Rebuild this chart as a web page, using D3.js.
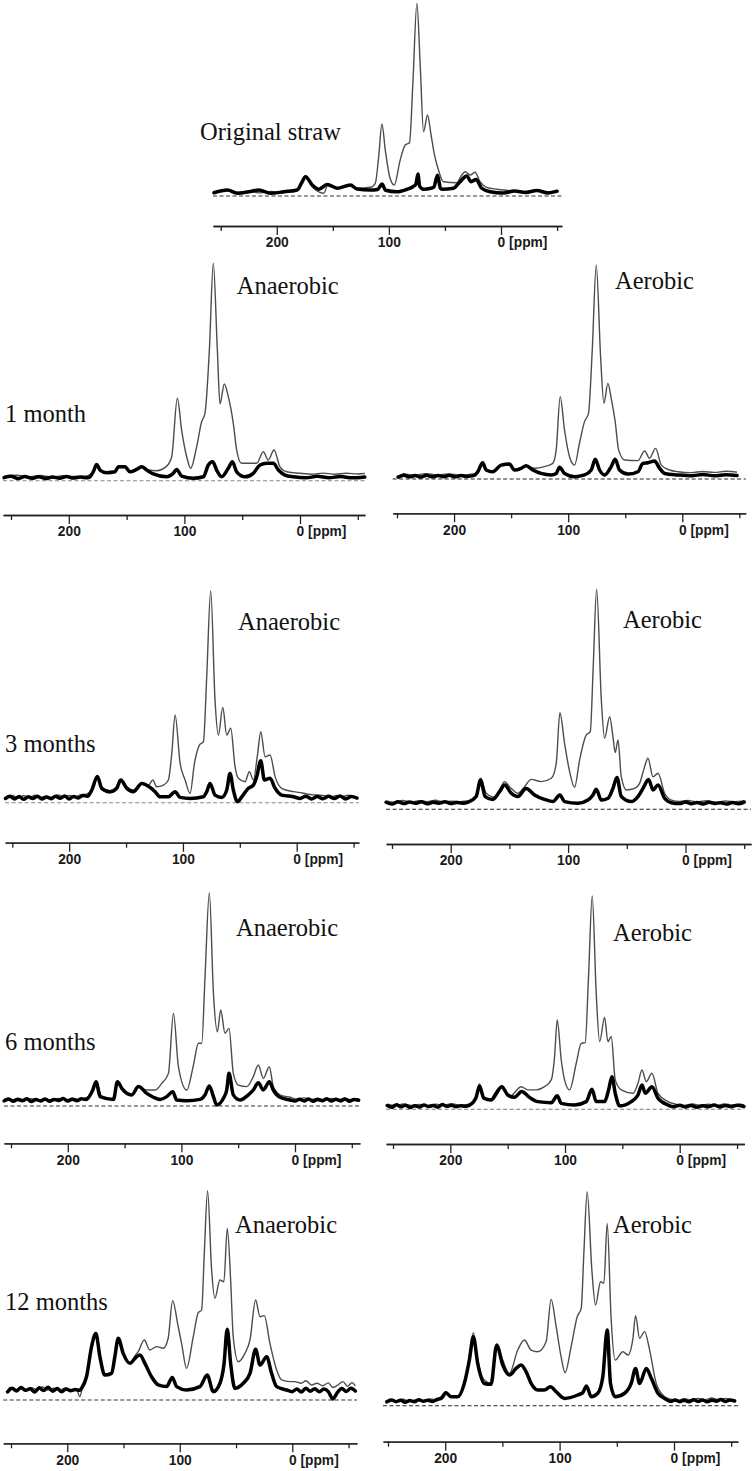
<!DOCTYPE html>
<html><head><meta charset="utf-8">
<script src="https://cdn.jsdelivr.net/npm/d3@7"></script>
<style>body{margin:0;background:#fff} svg{display:block}</style>
</head><body>
<svg id="c" width="756" height="1471"></svg>
<script>
// ---------- tick data ----------
const majorTicks = [200, 100, 0];
const minorTicks = [250, 150, 50, -50];
const tickLabels = {200: "200", 100: "100", 0: "0 [ppm]"};

// ---------- text ----------
const panelTitles = ["Original straw", "Anaerobic", "Aerobic", "Anaerobic", "Aerobic", "Anaerobic", "Aerobic", "Anaerobic", "Aerobic"];
const timeLabels = ["1 month", "3 months", "6 months", "12 months"];

// ---------- spectra: [ppm, relative intensity] ----------
const thinOrig = [[256,2.0],[245,2.8],[235,1.8],[225,2.5],[215,1.6],[205,2.4],[195,1.8],[185,2.2],[181.8,3.1],[174.4,10.4],[168.4,4.8],[162.5,2.2],[158,1.4],[154.2,6.2],[146.2,4.0],[134.3,5.7],[128.4,4.0],[116.5,4.5],[112.1,6.6],[109.1,20.4],[106.2,37.3],[103.2,23.8],[99.3,10],[95.2,5.7],[89.9,18.7],[85.4,26.4],[81.6,27.6],[78.6,58.4],[75,99.8],[72,67],[69.1,33.3],[65.5,42],[62.6,32.5],[59.6,22.1],[55.8,13.5],[51.3,7.4],[39.4,6.9],[35.9,10],[32,12.6],[27.6,10.9],[23.1,12.3],[18.7,7.4],[12.8,4.5],[3.9,3.5],[-8,2.8],[-20,2.2],[-30,3.0],[-40,2.0],[-50,2.6],[-55,2.2]];
const thickOrig = [[256,1.7],[244,3.1],[235.2,1.4],[224.8,2.2],[215.9,3.1],[205.5,1.4],[193.7,2.2],[181.8,3.1],[177.3,7.4],[174.4,10],[168.4,5.7],[162.5,3.5],[155.1,6],[146.2,4],[134.3,5.7],[128.4,3.6],[116.5,3.1],[110,3.4],[106.2,6.2],[103,3.0],[92.8,2.2],[83.9,3.5],[78.6,4.8],[76,6],[74.1,11.4],[72.5,5],[69.1,3.5],[62.6,4],[60,4.5],[56.6,10.7],[54,4],[52.8,3.5],[42.4,4],[36.5,7.4],[30.5,10.4],[26.7,7.4],[22.2,8.6],[17.2,4],[9.8,2.2],[-2,1.5],[-12,2.6],[-22,1.8],[-32,2.8],[-42,1.6],[-50,2.5],[-55,2.0]];

const thinAna1 = [[256,2.1],[245,2.5],[235,1.8],[225,2.4],[215,1.7],[205,2.3],[195,1.9],[185,2.1],[178.8,4.1],[175.9,6.7],[173,4.9],[167.2,3.7],[160,4.1],[157.2,6.1],[151.4,6.1],[147.1,4.1],[141.3,5.2],[137,6.1],[131.2,4.9],[124,4.6],[115.3,6.7],[111,11],[106.1,37.9],[102.4,23.3],[98,11],[94.6,5.7],[89.4,15.6],[85.1,27.1],[82.2,31],[78.4,60.1],[75,100],[71.5,60.1],[69.2,35.3],[65.5,44.5],[62,38.7],[57.7,26.4],[54.8,14.1],[50.5,8],[37.5,8],[31.7,13.3],[27.4,9.5],[22.5,14.1],[17.3,6.4],[11.5,4.1],[0,3.4],[-10,3.0],[-20,3.5],[-30,3.0],[-40,3.4],[-50,3.1],[-56,3.3]];
const thickAna1 = [[256,1.4],[250,2.0],[244,1.0],[238,1.9],[232,1.1],[226,1.8],[220,1.0],[214,1.7],[208,1.1],[202,1.9],[196,1.2],[190,1.7],[184,1.3],[181.7,1.8],[178.8,4.1],[175.9,7.5],[173,4.9],[167.2,3.7],[160,4.1],[157.2,6.4],[151.4,6.4],[147.1,4.1],[141.3,5.2],[137,6.4],[132.6,4.9],[126.9,3.1],[115.3,1.8],[109.6,3.4],[106.7,5.2],[102.4,2.1],[92.3,1.1],[83.6,1.8],[79.3,7.2],[75.5,8.7],[72.1,4.9],[67.8,1.8],[62,5.7],[58.5,8.7],[54.8,4.1],[47.6,1.8],[40.4,3.4],[34.6,7.2],[28.8,8],[23.1,8],[18.7,4.9],[13,2.6],[5.8,1.8],[-5,1.3],[-15,2.0],[-25,1.4],[-35,1.9],[-45,1.3],[-56,1.7]];

const thinAer1 = [[254,2.0],[245,2.6],[235,1.8],[225,2.5],[215,1.9],[205,2.4],[195,1.8],[185,2.2],[179.2,3],[174.9,7.3],[171.9,4.2],[166.1,3.4],[158.8,6.2],[151.5,6.5],[147.1,4.2],[141.2,5],[136.8,6.1],[129.5,5],[120.8,5.8],[113.5,7.3],[110.5,13.6],[107,38.5],[103.2,22.9],[98.8,10.4],[94.4,6.5],[90.1,16.7],[85.7,26.8],[82.2,30.7],[78.9,60.3],[75.4,100],[71.6,57.2],[68.7,35.4],[65.2,44.7],[62.3,37.7],[58.8,26.8],[55.8,13.6],[50.6,8.9],[38.9,8.6],[33,13.1],[28.7,9.7],[23.4,14.3],[18.4,6.5],[11.1,4.2],[3.8,3.4],[-8,3.0],[-18,3.5],[-28,3.1],[-38,3.6],[-48,3.2],[-56,3.5]];
const thickAer1 = [[254,1.6],[249,0.9],[244,1.7],[239,1.0],[234,1.6],[229,0.9],[224,1.7],[219,1.0],[214,1.6],[209,1.1],[204,1.7],[199,1.0],[194,1.6],[189,1.2],[182.2,1.7],[179.2,3.4],[174.9,7.6],[171.9,4.2],[166.1,3.4],[158.8,6.5],[151.5,7],[147.1,4.2],[141.2,5],[136.8,6.2],[131,4.2],[123.7,2.6],[114.9,1.9],[110.5,2.6],[107.6,5.5],[103.2,2.6],[94.4,1.1],[85.7,1.9],[79.8,4.2],[76.3,9.2],[72.5,4.2],[68.1,1.9],[62.3,5.8],[58.8,9.2],[55,4.2],[47.7,2.3],[38.9,3.4],[34.5,7.3],[30.1,7.6],[24.3,8.4],[19.9,5],[15.5,2.6],[3.8,1.9],[-8,1.5],[-18,2.1],[-28,1.5],[-38,2.0],[-48,1.6],[-56,1.9]];

const thinAna3 = [[256,2.5],[250,3.4],[245,2.2],[240,3.3],[235,2.4],[230,3.5],[225,2.6],[220,3.1],[215,2.3],[210,3.6],[205,2.8],[200,3.4],[195,2.7],[190,3.8],[185,4.0],[180.1,6],[175.2,12.3],[171.4,7.5],[165.5,4.7],[161.1,5.2],[154.7,10.7],[149.4,7.5],[143.5,6],[136.2,9.1],[130.3,8.3],[126.5,10.7],[123,7.5],[117.2,8.3],[112.8,10.7],[109.8,23.3],[106.9,41.4],[102.5,18.6],[98.1,10.7],[93.7,4.4],[89.9,18.6],[85.5,27.2],[82,28.8],[79.1,59.4],[75.6,100],[71.8,48.4],[68.8,31.9],[65,45],[61.5,31.9],[58,35.1],[54.2,17],[51.3,11.5],[45.4,9.9],[41.6,14.6],[38.1,10.7],[34.3,23.3],[31.6,33.5],[27.8,21.7],[23.4,22.5],[19,12.3],[13.2,6.8],[2.9,5.2],[-5,4.6],[-10,4.0],[-17.6,3.6],[-25,3.2],[-30,2.6],[-35,3.4],[-40,2.8],[-45,3.5],[-50,2.7],[-55,3.3]];
const thickAna3 = [[256,2.0],[252,3.0],[248,1.8],[244,2.9],[240,1.6],[236,2.8],[232,2.0],[228,3.1],[224,1.7],[220,2.7],[216,1.9],[212,3.0],[208,2.1],[204,3.2],[200,1.8],[196,2.9],[192,2.2],[188,3.4],[184,3.0],[180.1,6],[175.2,12.3],[171.4,6.8],[164,5.2],[158.2,6.8],[154.7,10.7],[149.4,6.8],[143.5,5.2],[136.2,9.1],[128.9,7.2],[124.5,5.2],[120.1,2.8],[112.8,2.8],[106.9,5.2],[102.5,2.5],[93.7,2],[82,2.8],[79.1,5.2],[76.2,9.1],[71.8,3.6],[65.9,2.5],[61.5,6],[58.6,13.8],[55.7,6],[52.1,0.5],[48.3,2.8],[42.5,6.8],[38.1,8.3],[35.1,12.3],[31.6,19.8],[28.4,10.7],[23.4,11.5],[19,6.8],[13.2,3.6],[2.9,2.8],[-3,2.0],[-8,3.1],[-13,1.8],[-18,2.9],[-23,1.9],[-28,3.0],[-33,2.0],[-38,3.2],[-43,1.8],[-48,2.9],[-53,2.2],[-55,3.2]];

const thinAer3 = [[255,3.8],[248,3.2],[241,4.0],[234,3.3],[227,3.9],[220,3.5],[213,4.1],[206,3.4],[199,3.7],[192,3.5],[186,3.8],[182.5,3.9],[178.3,5.8],[174.6,14.1],[169.7,7.3],[162.6,5.5],[158.4,8.8],[154.1,12.6],[149.9,10.3],[142.8,7.3],[137.1,10.3],[131.4,13.6],[122.9,12.6],[114.3,14.1],[110.1,20.9],[107,43.9],[103,30],[98.7,17.1],[94.5,10],[90.2,22.4],[84.5,33.8],[81.1,35.3],[78.6,64.8],[75.7,100],[71.7,49.7],[68.9,32.3],[64.6,42.1],[61.8,33],[59.8,25.8],[57.5,31.5],[54.7,14.8],[50.4,8.8],[43.3,9.5],[39.1,11.8],[34.8,19.4],[32,23.2],[27.7,14.8],[23.4,16.4],[17.8,7.3],[12.1,4.2],[5,3.6],[-2,4.0],[-10,3.4],[-18,3.9],[-26,3.2],[-34,3.8],[-42,3.4],[-50,3.9],[-56,2.9]];
const thickAer3 = [[255,3.2],[250,2.4],[245,3.4],[240,2.6],[235,3.3],[230,2.7],[225,3.4],[220,2.5],[215,3.2],[210,2.8],[205,3.4],[200,2.6],[195,3.1],[190,2.8],[185,3.3],[178.3,5.8],[174.6,13.3],[170.6,5.8],[164.1,4.5],[158.4,8],[154.1,11.1],[148.4,7.3],[142.8,5.8],[135.7,9.5],[128.6,6.5],[120,4.5],[112.9,3.5],[107,6.5],[103,3.5],[91.6,2.7],[83.1,4.2],[78.8,6.5],[76,9.1],[71.7,4.2],[66,5],[61.8,9.5],[58.4,14.5],[54.7,5.8],[46.2,3.5],[40.5,5.8],[36.2,9.5],[31.4,13.6],[27.7,8.8],[23.4,11.1],[17.8,5],[12.1,3],[5,2.6],[0,3.3],[-5,2.5],[-10,3.1],[-15,2.4],[-20,3.2],[-25,2.6],[-30,3.0],[-35,2.4],[-40,3.1],[-45,2.5],[-50,3.3],[-56,2.2]];

const thinAna6 = [[256,3.5],[250,2.6],[244,3.6],[238,2.8],[232,3.4],[226,2.5],[220,3.3],[214,2.7],[208,3.5],[202,2.9],[196,3.6],[190,3.0],[184,3.8],[178,7.5],[175.1,11.4],[170.1,4.4],[159.8,3.1],[158.1,7.5],[156.3,11.4],[152.5,8.3],[143.7,5.2],[137.8,9.1],[130.5,7.5],[123.2,7.5],[117.3,10.6],[111.4,15.3],[107,43.4],[102.6,18.4],[95.3,7.5],[89.4,19.2],[85,29.4],[82.1,29.4],[79.2,60.6],[75.4,100],[71.8,52.8],[68.3,34.8],[65.4,45],[61.6,34.1],[58.1,36.4],[54.3,15.3],[49.9,9.8],[42.5,9.1],[36.7,13.8],[32.3,19.2],[27.9,13],[22.6,18.4],[19.1,9.1],[13.2,5.2],[4.4,4.1],[-2,3.2],[-8,3.8],[-14,3.0],[-20,3.6],[-26,2.9],[-32,3.5],[-38,3.0],[-44,3.6],[-50,2.9],[-56,3.4]];
const thickAna6 = [[256,2.4],[252,3.3],[248,2.2],[244,3.1],[240,2.5],[236,3.4],[232,2.1],[228,3.0],[224,2.4],[220,3.3],[216,2.2],[212,3.1],[208,2.6],[204,3.5],[200,2.3],[196,3.2],[192,2.5],[188,3.4],[184,3.0],[178,7.5],[175.1,11.4],[171.6,4.4],[159.8,3.1],[156.3,11.4],[152.5,8.3],[143.7,5.2],[137.8,9.1],[130.5,5.9],[124.6,4.1],[118.8,3.1],[112.9,4.4],[107.6,6.7],[104.1,2.8],[95.3,2.5],[83.6,3.1],[79.2,5.2],[75.4,9.4],[71.8,4.4],[68.9,0.5],[63,3.6],[60.1,7.5],[58.1,15.3],[54.3,5.2],[48.4,2.8],[41.1,5.2],[36.7,7.5],[32.3,10.9],[27.9,7.5],[22.6,11.4],[19.1,7.5],[13.2,4.1],[4.4,2.8],[0,2.3],[-4,3.2],[-8,2.4],[-12,3.3],[-16,2.2],[-20,3.1],[-24,2.5],[-28,3.4],[-32,2.3],[-36,3.2],[-40,2.4],[-44,3.3],[-48,2.2],[-52,3.1],[-56,2.7]];

const thinAer6 = [[255,2.4],[248,1.7],[241,2.5],[234,1.8],[227,2.3],[220,1.6],[213,2.4],[206,2.0],[199,2.6],[192,1.9],[185,2.3],[180.4,2.8],[177.5,5.6],[174.6,11.9],[170.3,5.2],[163,4.4],[158.6,7.5],[155.1,10.6],[148.4,5.9],[138.2,10.6],[132.4,9.1],[125.1,9.1],[117.9,10.6],[112,13.8],[109.1,24.7],[106.8,41.9],[103.3,23.1],[100.4,13.8],[96,9.1],[90.2,21.6],[85.9,30.9],[82.4,31.3],[79.5,62.2],[76.3,100],[72.8,54.4],[69.8,31.7],[65.5,43.1],[62.6,31.7],[59.7,34.1],[56.2,13.8],[50.9,9.1],[40.7,7.5],[36.4,12.2],[32.9,18.4],[29.1,13],[24.2,16.9],[18.9,7.5],[10.2,3.6],[3,2.3],[-4,1.8],[-11,2.5],[-18,1.9],[-25,2.4],[-32,1.8],[-39,2.5],[-46,2.0],[-53,2.4],[-56,2.1]];
const thickAer6 = [[255,1.8],[251,1.0],[247,2.1],[243,1.2],[239,1.9],[235,0.8],[231,1.7],[227,1.1],[223,2.0],[219,1.3],[215,1.8],[211,1.0],[207,2.2],[203,1.4],[199,1.9],[195,1.2],[191,1.7],[187,1.4],[183,2.0],[177.5,5.6],[174.6,10.9],[170.8,5.2],[164.4,4.4],[160.1,7.5],[155.1,10.6],[149.9,6.7],[144.1,5.6],[137.7,8.3],[131,5.6],[123.7,3.6],[112,3.1],[106.8,6.3],[103.3,2.8],[91.7,2],[81.5,3.6],[76.5,9.4],[72.8,3.6],[65.5,3.6],[62,9.1],[59.1,15.3],[56.2,7.5],[52.4,1.6],[42.2,3.6],[36.4,6.7],[32.9,11.4],[30,7.5],[24.2,10.6],[18.9,5.2],[10.2,2],[5,1.2],[0,1.9],[-5,1.1],[-10,1.8],[-15,1.0],[-20,1.7],[-25,1.2],[-30,2.0],[-35,1.1],[-40,1.8],[-45,1.2],[-50,1.9],[-56,1.3]];

const thinAna12 = [[257,4.6],[252,6.0],[247,4.8],[242,5.7],[237,4.5],[232,5.9],[227,5.0],[222,6.2],[217,4.7],[212,5.6],[207,4.4],[202,5.8],[197,4.6],[192,5.2],[188.8,1.6],[185.8,8],[182.9,11.1],[178.4,25.5],[174.6,31.5],[171,20.7],[166.6,11.9],[160.6,12.7],[157.7,20.7],[154.7,29.5],[150.3,22.3],[144.3,17.5],[140,21],[136.9,23.1],[131.6,28.7],[126.6,23.9],[120.6,25.5],[114.7,24.7],[110.3,29.5],[106.4,47.5],[101.4,35],[98.4,27.1],[94,15.1],[88,30.3],[83.6,41.7],[80.6,43],[78.2,70.1],[75.3,100],[71.7,62.1],[68.8,48.6],[64.3,57.3],[60.8,56.5],[57.8,82],[54.8,57.3],[52.5,30.3],[48,18.3],[42.1,22.3],[37.6,28.7],[32.6,47.8],[28.7,39.8],[24.9,40.3],[19.9,27.1],[13.9,14.3],[9.5,9.6],[2.1,8.8],[-2,8.8],[-8,8.0],[-12,9.2],[-17,7.2],[-22,8.0],[-27,6.8],[-32,8.2],[-36,6.0],[-40,7.0],[-45,8.8],[-49,6.5],[-53,8.3],[-56,6.8]];
const thickAna12 = [[257,5.0],[253,3.9],[249,5.6],[245,4.3],[241,6.0],[237,4.6],[233,5.4],[229,3.8],[225,5.8],[221,4.5],[217,6.1],[213,4.2],[209,5.5],[205,3.9],[201,5.3],[197,4.4],[193,5.0],[189,4.6],[187.3,5.6],[182.9,11.1],[178.4,25.5],[174.6,31.8],[171,20.7],[166.6,11.9],[160.6,12.7],[157.7,20.7],[154.7,29.5],[150.3,22.3],[144.3,17.5],[138.4,20.7],[135.4,21.5],[131,17.5],[125.1,11.1],[119.1,7.2],[111.7,6.4],[106.7,10.8],[102.8,6.4],[94,4.8],[82.1,6.4],[75.6,11.9],[70.2,4],[64.3,8],[60.8,16.7],[57.8,33.8],[54.8,17.5],[51,5.6],[43.6,8],[37.6,12.7],[32.6,24.2],[28.7,16.7],[22.8,20.7],[18.4,12.7],[13.9,6.4],[5,4.8],[0,4.0],[-4,5.3],[-8,3.8],[-12,5.6],[-16,4.2],[-20,5.4],[-24,3.9],[-28,5.2],[-32,4.0],[-36,0.5],[-40,3.5],[-44,5.5],[-48,4.1],[-52,5.6],[-56,4.3]];

const thinAer12 = [[255,2.2],[249,3.1],[243,2.3],[237,3.0],[231,2.0],[225,2.8],[219,2.2],[213,3.2],[207,2.6],[203.7,4.2],[199.4,6.5],[195,4.2],[189.1,4.2],[183.3,10.4],[178.9,22.9],[175.4,34.1],[171.6,21.3],[165.8,12],[160,10.4],[155,28.8],[149.7,21.3],[143.9,15.1],[136.6,26],[130.8,30.7],[124.9,26],[119.1,25.2],[111.8,29.9],[107.4,49.7],[103,36.9],[98.7,22.9],[95.2,15.4],[89.9,27.6],[84.6,41.6],[81.1,45.5],[78.8,71.2],[75.9,100],[71.8,63.4],[68.6,47],[64.2,57.9],[61.3,57.2],[58.4,85.2],[54.9,40],[51.4,21.3],[44.7,25.2],[40.3,23.7],[35.9,31.5],[33.6,42.1],[30.1,31.5],[25.7,34.6],[21.3,26],[15.5,10.4],[8.2,4.2],[3,3.0],[-3,2.3],[-9,3.3],[-15,2.5],[-21,3.4],[-27,2.7],[-33,3.6],[-39,2.8],[-45,3.4],[-51,2.6],[-56,3.9]];
const thickAer12 = [[255,2.6],[251,1.8],[247,2.7],[243,1.9],[239,2.5],[235,1.6],[231,2.4],[227,1.9],[223,2.8],[219,2.1],[215,2.6],[211,2.0],[207,2.9],[203,3.6],[199.4,6.1],[195,4.2],[189.1,4.2],[183.3,10.4],[178.9,21.3],[175.4,32.2],[171.6,19.8],[165.8,10.4],[160,10],[155,28.3],[149.7,19],[143.9,14.3],[138.1,17.4],[133.7,19],[129.3,15.9],[124.9,10.4],[119.1,7.3],[113.3,7.3],[108,8.9],[103,6.5],[95.7,3.4],[84.1,5],[79.7,6.1],[76.5,9.2],[72.4,4.2],[66.6,5.8],[62.2,13.6],[58.4,35.4],[55.5,10.4],[51.4,4.2],[43.2,5.8],[37.4,10.4],[33.6,17.4],[30.1,10.4],[24.2,17.4],[19.8,12.8],[14,5.8],[8.2,3.4],[3,2.0],[-1,2.7],[-5,1.9],[-9,2.6],[-13,1.8],[-17,2.8],[-21,2.0],[-25,2.7],[-29,1.8],[-33,2.6],[-37,2.1],[-41,2.9],[-45,2.0],[-49,2.7],[-53,2.2],[-56,2.8]];

// ---------- layout (pixel geometry per panel) ----------
const layout = [
  {thin: thinOrig,  thick: thickOrig,  title: 0, tx: 200,   ty: 140,   time: -1, x250: 220.7, x0: 501,   pL: 256.9, pR: -54.3, yBase: 196,    yTop: 3,     yAxis: 226,    dash: "#333"},
  {thin: thinAna1,  thick: thickAna1,  title: 1, tx: 236.7, ty: 294,   time: 0, lx: 5, ly: 421.7, x250: 11,  x0: 300,   pL: 256.9, pR: -56.2, yBase: 480.7,  yTop: 263.3, yAxis: 515,    dash: "#888"},
  {thin: thinAer1,  thick: thickAer1,  title: 2, tx: 615,   ty: 289.3, time: -1, x250: 397,   x0: 682.3, pL: 253.8, pR: -55.6, yBase: 479,    yTop: 265,   yAxis: 513.3,  dash: "#222"},
  {thin: thinAna3,  thick: thickAna3,  title: 3, tx: 238,   ty: 630,   time: 1, lx: 5, ly: 752, x250: 12.3, x0: 296.7, pL: 256.3, pR: -54.7, yBase: 802.7,  yTop: 590.7, yAxis: 842.7,  dash: "#888"},
  {thin: thinAer3,  thick: thickAer3,  title: 4, tx: 623,   ty: 628.3, time: -1, x250: 392,   x0: 685.5, pL: 255,   pR: -55.8, yBase: 809.3,  yTop: 589.3, yAxis: 844,    dash: "#222"},
  {thin: thinAna6,  thick: thickAna6,  title: 5, tx: 236,   ty: 936,   time: 2, lx: 5, ly: 1050, x250: 11, x0: 295,   pL: 256.2, pR: -57.2, yBase: 1106,   yTop: 892.7, yAxis: 1143.3, dash: "#333"},
  {thin: thinAer6,  thick: thickAer6,  title: 6, tx: 613,   ty: 941,   time: -1, x250: 393,   x0: 679.7, pL: 256,   pR: -56.4, yBase: 1109.3, yTop: 896,   yAxis: 1144,   dash: "#777"},
  {thin: thinAna12, thick: thickAna12, title: 7, tx: 235,   ty: 1233.3, time: 3, lx: 5, ly: 1310, x250: 11, x0: 292.3, pL: 256.9, pR: -57.5, yBase: 1400,   yTop: 1190.7, yAxis: 1443.3, dash: "#333"},
  {thin: thinAer12, thick: thickAer12, title: 8, tx: 613,   ty: 1233.3, time: -1, x250: 388,  x0: 674,   pL: 254.4, pR: -55.9, yBase: 1405.7, yTop: 1191.7, yAxis: 1441.7, dash: "#222"}
];

const svg = d3.select("#c");

layout.forEach(p => {
  const k = (p.x0 - p.x250) / 250;
  const x = d3.scaleLinear().domain([p.pL, p.pR]).range([p.x0 - p.pL * k, p.x0 - p.pR * k]);
  const y = d3.scaleLinear().domain([0, 100]).range([p.yBase, p.yTop]);
  const g = svg.append("g");
  const inRange = d => d[0] <= p.pL + 0.01 && d[0] >= p.pR - 0.01;

  // dashed zero line
  g.append("line")
    .attr("x1", x(p.pL)).attr("x2", x(p.pR))
    .attr("y1", y(0)).attr("y2", y(0))
    .attr("stroke", p.dash).attr("stroke-width", 1.1)
    .attr("stroke-dasharray", "4,2.5");

  const line = d3.line().x(d => x(d[0])).y(d => y(d[1])).curve(d3.curveMonotoneX);

  g.append("path").datum(p.thin.filter(inRange)).attr("d", line)
    .attr("fill", "none").attr("stroke", "#4d4d4d").attr("stroke-width", 1.4)
    .attr("stroke-linejoin", "round");
  g.append("path").datum(p.thick.filter(inRange)).attr("d", line)
    .attr("fill", "none").attr("stroke", "#000").attr("stroke-width", 3.5)
    .attr("stroke-linejoin", "round").attr("stroke-linecap", "round");

  // axes
  const minorAxis = d3.axisBottom(x).tickValues(minorTicks).tickSize(5).tickSizeOuter(0).tickFormat(() => "");
  const majorAxis = d3.axisBottom(x).tickValues(majorTicks).tickSize(9).tickSizeOuter(0).tickFormat(d => tickLabels[d]);
  const ga = g.append("g").attr("transform", `translate(0,${p.yAxis})`).style("color", "#222");
  ga.append("g").call(minorAxis);
  const gm = ga.append("g").call(majorAxis);
  ga.selectAll("path.domain").attr("stroke-width", 1.3);
  ga.selectAll(".tick line").attr("stroke-width", 1.3);
  gm.selectAll(".tick text")
    .attr("font-family", "'Liberation Sans', Arial, sans-serif")
    .attr("font-weight", "bold").attr("font-size", 13.8).attr("fill", "#1a1a1a")
    .attr("y", 11.5)
    .each(function(d) {
      if (d === 0) d3.select(this).attr("text-anchor", "start").attr("x", -3.9);
    });

  // labels
  g.append("text").attr("x", p.tx).attr("y", p.ty)
    .attr("font-family", "'Liberation Serif', 'Times New Roman', serif")
    .attr("font-size", 24.5).attr("fill", "#111")
    .text(panelTitles[p.title]);
  if (p.time >= 0) {
    g.append("text").attr("x", p.lx).attr("y", p.ly)
      .attr("font-family", "'Liberation Serif', 'Times New Roman', serif")
      .attr("font-size", 24.5).attr("fill", "#111")
      .text(timeLabels[p.time]);
  }
});
</script>
</body></html>
